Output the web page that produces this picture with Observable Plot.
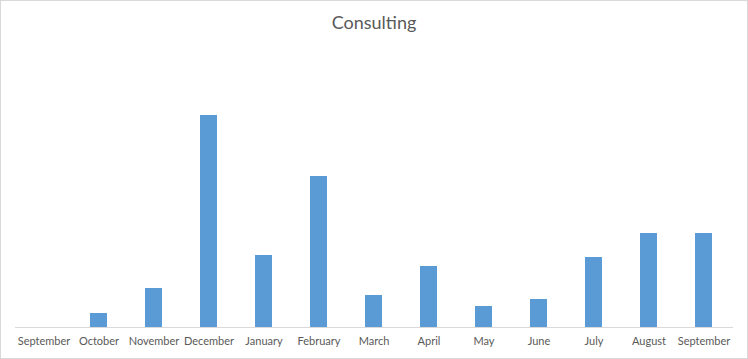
<!DOCTYPE html>
<html>
<head>
<meta charset="utf-8">
<script src="https://cdn.jsdelivr.net/npm/d3@7"></script>
<script src="https://cdn.jsdelivr.net/npm/@observablehq/plot@0.6"></script>
<style>
  body { margin: 0; background: #fff; }
  #chart { position: relative; width: 748px; height: 359px; outline: 1px solid #d9d9d9; outline-offset: -1px; font-family: Lato, "Open Sans", sans-serif; }
  #title { position: absolute; left: 0; top: 11px; width: 748px; text-align: center; font-size: 18px; color: #595959; font-family: Lato, sans-serif; }
  svg { display: block; }
</style>
</head>
<body>
<div id="chart"><div id="title">Consulting</div></div>
<script>
const months = ["September","October","November","December","January","February","March","April","May","June","July","August","September"];
const values = [0, 14, 39, 212, 72, 151, 32, 61, 21, 28, 70, 94, 94];

const data = months.map((m, i) => ({i, month: m, value: values[i]}));

const plot = Plot.plot({
  width: 748,
  height: 359,
  marginLeft: 15,
  marginRight: 15,
  marginTop: 47,
  marginBottom: 32,
  style: {fontFamily: "Lato, sans-serif", fontSize: "11px", color: "#595959", background: "transparent"},
  x: {domain: d3.range(months.length), paddingInner: 0.69, paddingOuter: 0.345, tickFormat: i => months[i], tickSize: 0, tickPadding: 10, label: null},
  y: {domain: [0, 280], axis: null},
  marks: [
    Plot.barY(data, {x: "i", y: "value", fill: "#5b9bd5"}),
    Plot.ruleY([0], {stroke: "#d9d9d9", strokeWidth: 1})
  ]
});
document.getElementById("chart").appendChild(plot);
</script>
</body>
</html>
